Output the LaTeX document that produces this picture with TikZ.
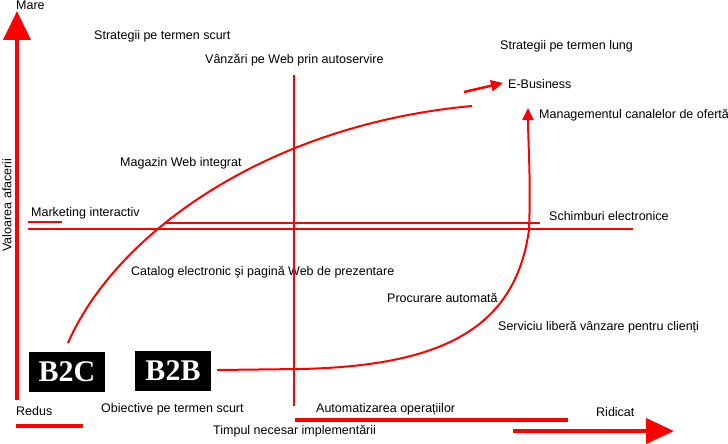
\documentclass[tikz,border=0pt]{standalone}
\usepackage{fontspec}
\setmainfont{Liberation Sans}
\newfontfamily\boxfont{Liberation Serif}
\usetikzlibrary{arrows.meta}
\tikzset{
  lbl/.style={anchor=west, inner sep=0pt, font=\fontsize{12.5}{15}\selectfont, text=black},
  bbox/.style={fill=black, text=white, inner sep=0pt, minimum width=76pt, minimum height=40pt, font=\boxfont\bfseries\fontsize{30}{32}\selectfont},
  axis/.style={red, line width=4pt},
  thinred/.style={red, line width=1.6pt},
  curve/.style={red, line width=2pt},
}
\begin{document}
\begin{tikzpicture}[x=1pt,y=-1pt]
\useasboundingbox (0,0) rectangle (728,444);
% texts
\node[lbl] (mare) at (16,5) {Mare};
\node[lbl] (ssc) at (94,36) {Strategii pe termen scurt};
\node[lbl] (vanz) at (205,60) {Vânzări pe Web prin autoservire};
\node[lbl] (slung) at (500,46) {Strategii pe termen lung};
\node[lbl] (ebus) at (508,84) {E-Business};
\node[lbl] (mgmt) at (539,115) {Managementul canalelor de ofertă};
\node[lbl] (mag) at (120,163) {Magazin Web integrat};
\node[lbl] (mkt) at (31,213) {Marketing interactiv};
\node[lbl, anchor=center, rotate=90] (val) at (7,205) {Valoarea afacerii};
\node[lbl] (schimb) at (549,216) {Schimburi electronice};
\node[lbl] (cat) at (131,272) {Catalog electronic şi pagină Web de prezentare};
\node[lbl] (proc) at (387,298) {Procurare automată};
\node[lbl] (serv) at (498,327) {Serviciu liberă vânzare pentru clienți};
\node[lbl] (redus) at (16,411) {Redus};
\node[lbl] (obj) at (101,409) {Obiective pe termen scurt};
\node[lbl] (auto) at (316,409) {Automatizarea operațiilor};
\node[lbl] (timp) at (213,431) {Timpul necesar implementării};
\node[lbl] (rid) at (596,412) {Ridicat};
% boxes
\node[bbox] (b2c) at (67,372) {B2C};
\node[bbox] (b2b) at (173,371) {B2B};
% coordinates
\coordinate (yb) at (17,400);
\coordinate (yt) at (17,11);
\coordinate (r1) at (16,426);
\coordinate (r2) at (83,426);
\coordinate (a1) at (295,420);
\coordinate (a2) at (568,420);
\coordinate (x1) at (513,431);
\coordinate (x2) at (674,431);
\coordinate (v1) at (294,75);
\coordinate (v2) at (294,406);
\coordinate (h1) at (28,229);
\coordinate (h2) at (633,229);
\coordinate (t1) at (164,223);
\coordinate (t2) at (540,223);
\coordinate (m1) at (28,222);
\coordinate (m2) at (62,222);
\coordinate (c1s) at (68,343);
\coordinate (c1e) at (472,106);
\coordinate (e1) at (464,92);
\coordinate (e2) at (503,83);
\coordinate (c2s) at (217,370);
\coordinate (c2e) at (528,108);
% axes and lines
\draw[axis, -{Triangle[width=27pt,length=29pt]}] (yb) -- (yt);
\draw[axis] (r1) -- (r2);
\draw[axis] (a1) -- (a2);
\draw[axis, -{Triangle[width=25pt,length=28pt]}] (x1) -- (x2);
\draw[red, line width=2pt] (v1) -- (v2);
\draw[red, line width=2.4pt] (h1) -- (h2);
\draw[thinred] (t1) -- (t2);
\draw[thinred] (m1) -- (m2);
% curves
\draw[curve] (c1s) .. controls (115,235) and (265,125) .. (c1e);
\draw[red, line width=2.5pt, -{Triangle[width=11pt,length=12pt]}] (e1) -- (e2);
\draw[curve, -{Triangle[width=11pt,length=12pt]}] (c2s) -- (300,369) .. controls (440,366) and (515,330) .. (529,230) .. controls (531,180) and (528,140) .. (c2e);
\end{tikzpicture}
\end{document}
